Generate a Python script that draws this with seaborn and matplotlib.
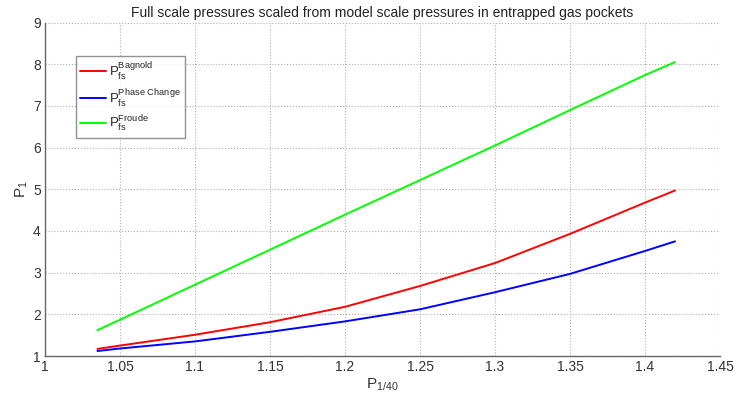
import pandas as pd
import seaborn as sns
import matplotlib
matplotlib.use('Agg')
import matplotlib.pyplot as plt

# values
p_model = [1.035, 1.05, 1.1, 1.15, 1.2, 1.25, 1.3, 1.35, 1.4, 1.42]
p_bagnold = [1.17, 1.25, 1.51, 1.81, 2.18, 2.68, 3.23, 3.93, 4.68, 4.97]
p_phase = [1.12, 1.18, 1.35, 1.58, 1.83, 2.12, 2.53, 2.97, 3.52, 3.75]
p_froude = [1.62, 1.87, 2.71, 3.55, 4.39, 5.22, 6.05, 6.90, 7.74, 8.05]

series_labels = [r'P$_{fs}^{Bagnold}$', r'P$_{fs}^{Phase\ Change}$', r'P$_{fs}^{Froude}$']
series_colors = ['#ff0000', '#0000ff', '#00ff00']

x_ticks = [1, 1.05, 1.1, 1.15, 1.2, 1.25, 1.3, 1.35, 1.4, 1.45]
x_tick_labels = ['1', '1.05', '1.1', '1.15', '1.2', '1.25', '1.3', '1.35', '1.4', '1.45']
y_ticks = [1, 2, 3, 4, 5, 6, 7, 8, 9]

df = pd.DataFrame({
    'x': p_model * 3,
    'P': p_bagnold + p_phase + p_froude,
    'series': [series_labels[0]] * len(p_model) + [series_labels[1]] * len(p_model)
              + [series_labels[2]] * len(p_model),
})

sns.set_style('white')
plt.rcParams['font.family'] = ['Liberation Sans', 'DejaVu Sans']
plt.rcParams['mathtext.fontset'] = 'custom'
plt.rcParams['mathtext.rm'] = 'Liberation Sans'
plt.rcParams['mathtext.it'] = 'Liberation Sans'
plt.rcParams['mathtext.bf'] = 'Liberation Sans'

fig = plt.figure(figsize=(7.41, 3.96), dpi=100)
ax = fig.add_axes([0.0607, 0.101, 0.911, 0.842])

sns.lineplot(data=df, x='x', y='P', hue='series', hue_order=series_labels,
             palette=series_colors, linewidth=1.4, ax=ax, legend=True)

ax.set_xlim(1, 1.45)
ax.set_ylim(1, 9)
ax.set_xticks(x_ticks)
ax.set_xticklabels(x_tick_labels)
ax.set_yticks(y_ticks)
ax.grid(True, linestyle=':', color='#b0b0b0', linewidth=0.8)
ax.tick_params(direction='in', length=4, color='#555555', labelsize=10,
               labelcolor='#333333', pad=3)
for side in ['top', 'right']:
    ax.spines[side].set_visible(False)
for side in ['left', 'bottom']:
    ax.spines[side].set_color('#666666')
    ax.spines[side].set_linewidth(1.0)

ax.set_title('Full scale pressures scaled from model scale pressures in entrapped gas pockets',
             fontsize=10, color='#222222', pad=4)
ax.set_xlabel(r'P$_{1/40}$', fontsize=11, color='#333333', labelpad=2)
ax.set_ylabel(r'P$_1$', fontsize=11, color='#333333', labelpad=2)

leg = ax.legend(loc='upper left', bbox_to_anchor=(0.036, 0.92), fontsize=9.5,
                frameon=True, fancybox=False, handlelength=2.0, handletextpad=0.2,
                borderpad=0.3, labelspacing=0.4)
leg.get_frame().set_edgecolor('#777777')
leg.get_frame().set_linewidth(1.0)

fig.savefig('out.png', dpi=100)
